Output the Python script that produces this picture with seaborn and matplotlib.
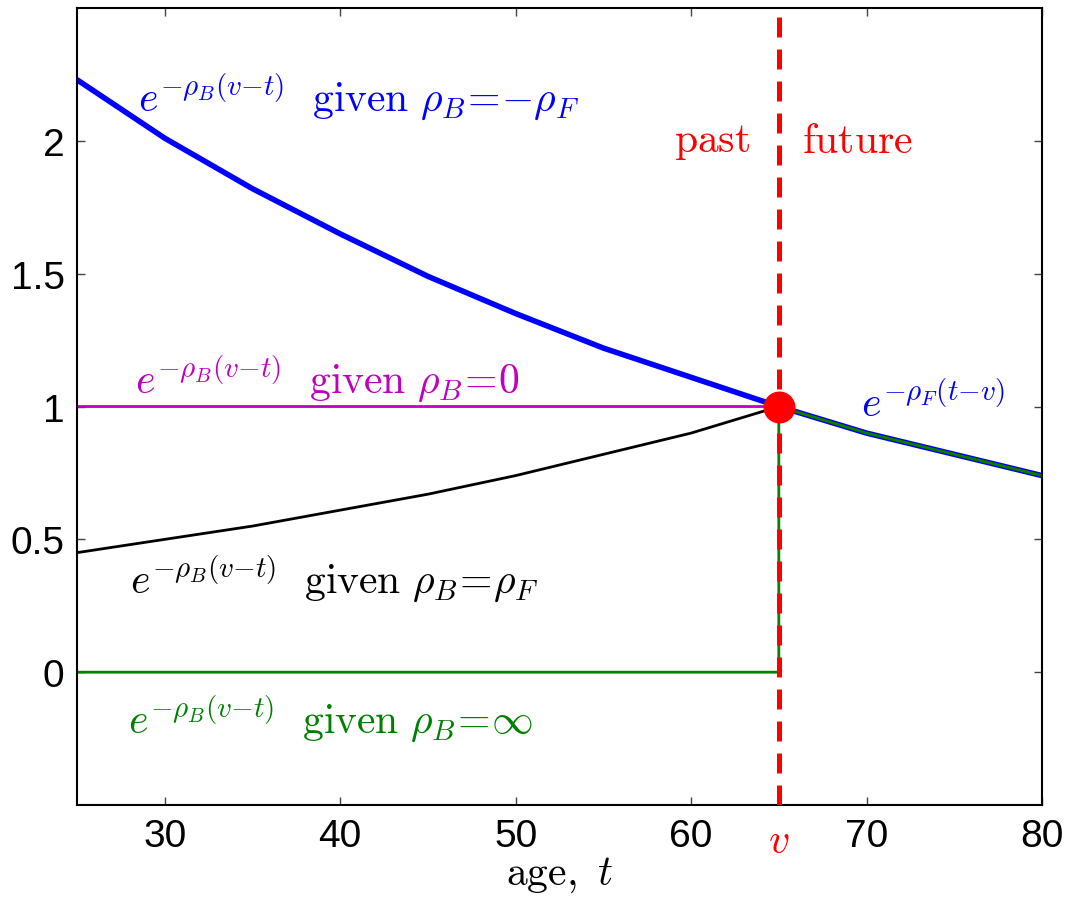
import numpy as np
import pandas as pd
import matplotlib
matplotlib.use('Agg')
import matplotlib.pyplot as plt
import matplotlib.transforms as mtransforms
import seaborn as sns

sns.set_style('ticks')
plt.rcParams['font.family'] = ['Liberation Sans', 'DejaVu Sans']
plt.rcParams['mathtext.fontset'] = 'cm'

# values
v_age = 65
age_past = [25, 30, 35, 40, 45, 50, 55, 60, 65]
neg_rho_past = [2.23, 2.01, 1.82, 1.65, 1.49, 1.35, 1.22, 1.11, 1.00]   # rho_B = -rho_F
zero_rho_past = [1.00, 1.00, 1.00, 1.00, 1.00, 1.00, 1.00, 1.00, 1.00]  # rho_B = 0
pos_rho_past = [0.45, 0.50, 0.55, 0.61, 0.67, 0.74, 0.82, 0.90, 1.00]   # rho_B = rho_F
inf_rho_past = [0.00, 0.00, 0.00, 0.00, 0.00, 0.00, 0.00, 0.00, 0.00]   # rho_B = inf
age_future = [65, 70, 75, 80]
future_vals = [1.00, 0.90, 0.82, 0.74]

xticks = [30, 40, 50, 60, 70, 80]
yticks = [0, 0.5, 1, 1.5, 2]
ytick_labels = ['0', '0.5', '1', '1.5', '2']

def curve(past_vals):
    return pd.DataFrame({'age': age_past + age_future[1:],
                         'val': past_vals + future_vals[1:]})

df_neg = curve(neg_rho_past)
df_zero = curve(zero_rho_past)
df_pos = curve(pos_rho_past)
df_inf = pd.DataFrame({'age': age_past + age_future,
                       'val': inf_rho_past + future_vals})

fig = plt.figure(figsize=(10.73, 9.03), dpi=100)
ax = fig.add_axes([0.0718, 0.1074, 0.8993, 0.8826])

kw = dict(x='age', y='val', estimator=None, sort=False, ax=ax, legend=False)
sns.lineplot(data=df_neg, color='#0000ff', linewidth=4.0, **kw)
sns.lineplot(data=df_zero, color='#c000c0', linewidth=2.0, **kw)
sns.lineplot(data=df_pos, color='black', linewidth=2.0, **kw)
sns.lineplot(data=df_inf, color='#008000', linewidth=2.0, **kw)

ax.axvline(v_age, color='#ff0000', linewidth=3.6, dashes=(4, 2.4), zorder=5)
ax.plot([v_age], [1.0], 'o', color='#ff0000', markersize=22, zorder=6)

ax.set_xlim(25, 80)
ax.set_ylim(-0.5, 2.5)
ax.set_xticks(xticks)
ax.set_xticklabels([str(t) for t in xticks])
ax.set_yticks(yticks)
ax.set_yticklabels(ytick_labels)
ax.tick_params(direction='in', length=6, width=1, color='#444444',
               labelsize=28, labelcolor='black', top=True, right=True, pad=9)
for s in ax.spines.values():
    s.set_linewidth(1.5)
    s.set_color('black')

ax.set_xlabel(r'$\mathrm{age,}\ t$', fontsize=30, color='black', labelpad=0)
ax.set_ylabel('')

trans = mtransforms.blended_transform_factory(ax.transData, ax.transAxes)
ax.text(v_age, -0.02, r'$v$', color='#ff0000', fontsize=30, ha='center', va='top',
        transform=trans)

fs = 30
lab = r'$e^{-\rho_B(v{-}t)}\ \ \mathrm{given}\ \rho_B\!=\!%s$'
ax.text(28.5, 2.17, lab % r'{-}\rho_F', color='#0000ff', fontsize=fs, va='center')
ax.text(28.3, 1.11, lab % '0', color='#c000c0', fontsize=fs, va='center')
ax.text(28.0, 0.355, lab % r'\rho_F', color='black', fontsize=fs, va='center')
ax.text(27.9, -0.17, lab % r'\infty', color='#008000', fontsize=fs, va='center')
ax.text(69.7, 1.01, r'$e^{-\rho_F(t{-}v)}$', color='#0000ff', fontsize=fs, va='center')
ax.text(63.4, 2.0, r'$\mathrm{past}$', color='#ff0000', fontsize=fs, ha='right', va='center')
ax.text(66.3, 2.0, r'$\mathrm{future}$', color='#ff0000', fontsize=fs, ha='left', va='center')

fig.savefig('out.png', dpi=100)
